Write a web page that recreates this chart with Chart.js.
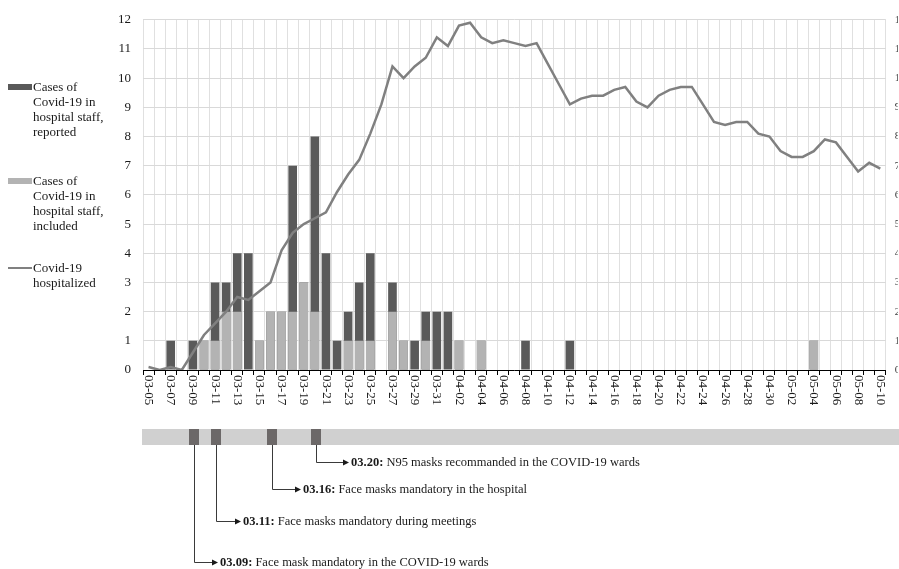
<!DOCTYPE html>
<html><head><meta charset="utf-8">
<script src="https://cdn.jsdelivr.net/npm/chart.js@4.4.1/dist/chart.umd.min.js"></script>
<style>
html,body{margin:0;padding:0;background:#fff;overflow:hidden;}
#wrap{position:relative;width:899px;height:569px;}
canvas{position:absolute;left:0;top:0;}
.lg{position:absolute;font-family:"Liberation Serif","Times New Roman",serif;font-size:13px;line-height:15px;color:#1a1a1a;white-space:nowrap;}
.sw{position:absolute;}
</style></head><body>
<div id="wrap">
<canvas id="c" width="899" height="569"></canvas>
<div class="sw" style="left:8px;top:84px;width:24px;height:6px;background:#595959"></div>
<div class="lg" style="left:33px;top:79px">Cases of<br>Covid-19 in<br>hospital staff,<br>reported</div>
<div class="sw" style="left:8px;top:178px;width:24px;height:6px;background:#b3b3b3"></div>
<div class="lg" style="left:33px;top:173px">Cases of<br>Covid-19 in<br>hospital staff,<br>included</div>
<div class="sw" style="left:8px;top:267px;width:24px;height:2px;background:#808080"></div>
<div class="lg" style="left:33px;top:260px">Covid-19<br>hospitalized</div>
</div>
<script>
const dates = [
 '03-05','03-06','03-07','03-08','03-09','03-10','03-11','03-12','03-13','03-14',
 '03-15','03-16','03-17','03-18','03-19','03-20','03-21','03-22','03-23','03-24',
 '03-25','03-26','03-27','03-28','03-29','03-30','03-31','04-01','04-02','04-03',
 '04-04','04-05','04-06','04-07','04-08','04-09','04-10','04-11','04-12','04-13',
 '04-14','04-15','04-16','04-17','04-18','04-19','04-20','04-21','04-22','04-23',
 '04-24','04-25','04-26','04-27','04-28','04-29','04-30','05-01','05-02','05-03',
 '05-04','05-05','05-06','05-07','05-08','05-09','05-10'];

// staff cases, reported (total) per day
const reportedCases = [
 0,0,1,0,1,1,3,3,4,4,
 1,2,2,7,3,8,4,1,2,3,
 4,0,3,1,1,2,2,2,1,0,
 1,0,0,0,1,0,0,0,1,0,
 0,0,0,0,0,0,0,0,0,0,
 0,0,0,0,0,0,0,0,0,0,
 1,0,0,0,0,0,0];

// staff cases, included per day
const includedCases = [
 0,0,0,0,0,1,1,2,2,0,
 1,2,2,2,3,2,0,0,1,1,
 1,0,2,1,0,1,0,0,1,0,
 1,0,0,0,0,0,0,0,0,0,
 0,0,0,0,0,0,0,0,0,0,
 0,0,0,0,0,0,0,0,0,0,
 1,0,0,0,0,0,0];

// hospitalized Covid-19 patients (right axis)
const hospitalized = [
 1,0,1,0,6,12,16,20,25,24,
 27,30,41,47,50,52,54,61,67,72,
 81,91,104,100,104,107,114,111,118,119,
 114,112,113,112,111,112,105,98,91,93,
 94,94,96,97,92,90,94,96,97,97,
 91,85,84,85,85,81,80,75,73,73,
 75,79,78,73,68,71,69];

const interventionDates = ['03-20','03-16','03-11','03-09'];
const interventionTags  = ['03.20:','03.16:','03.11:','03.09:'];
const interventionTexts = [
 ' N95 masks recommanded in the COVID-19 wards',
 ' Face masks mandatory in the hospital',
 ' Face masks mandatory during meetings',
 ' Face mask mandatory in the COVID-19 wards'];

const SERIF = '"Liberation Serif","Times New Roman",serif';

const rotatedLabels = {
  id:'rotatedLabels',
  afterDraw(chart){
    const xs = chart.scales.x, ctx = chart.ctx;
    ctx.save();
    ctx.font = '13px ' + SERIF;
    ctx.fillStyle = '#1a1a1a';
    ctx.textAlign = 'left';
    ctx.textBaseline = 'middle';
    dates.forEach((d,i)=>{
      if (i % 2) return;
      const x = xs.getPixelForTick(i);
      ctx.save();
      ctx.translate(x, xs.top + 5);
      ctx.rotate(Math.PI/2);
      ctx.fillText(d, 0, 0);
      ctx.restore();
    });
    ctx.restore();
  }
};

const rowY = [462, 489, 521, 562];
const textGap = [35, 31, 27, 26];
const timeline = {
  id:'timeline',
  afterDraw(chart){
    const xs = chart.scales.x, ctx = chart.ctx;
    const left = chart.chartArea.left;
    const top = 429, h = 16;
    ctx.save();
    ctx.fillStyle = '#d0d0d0';
    ctx.fillRect(left - 1, top, chart.width - left + 1, h);
    interventionDates.forEach((d,k)=>{
      const cx = Math.round(xs.getPixelForValue(dates.indexOf(d))) + 1;
      ctx.fillStyle = '#6c6868';
      ctx.fillRect(cx - 5, top, 10, h);
    });
    interventionDates.forEach((d,k)=>{
      const cx = Math.round(xs.getPixelForValue(dates.indexOf(d))) + 1;
      const y = rowY[k] + 0.5;
      const tx = cx + textGap[k];
      ctx.strokeStyle = '#3a3a3a';
      ctx.lineWidth = 1;
      ctx.beginPath();
      ctx.moveTo(cx + 0.5, top + h);
      ctx.lineTo(cx + 0.5, y);
      ctx.lineTo(tx - 6, y);
      ctx.stroke();
      ctx.fillStyle = '#1a1a1a';
      ctx.beginPath();
      ctx.moveTo(tx - 2, y);
      ctx.lineTo(tx - 8, y - 3);
      ctx.lineTo(tx - 8, y + 3);
      ctx.closePath();
      ctx.fill();
      ctx.textBaseline = 'middle';
      ctx.textAlign = 'left';
      ctx.font = 'bold 12.5px ' + SERIF;
      ctx.fillText(interventionTags[k], tx, y);
      const w = ctx.measureText(interventionTags[k]).width;
      ctx.font = '12.5px ' + SERIF;
      ctx.fillText(interventionTexts[k], tx + w, y);
    });
    ctx.restore();
  }
};

new Chart(document.getElementById('c'), {
  type:'bar',
  data:{
    labels:dates,
    datasets:[
      {type:'line', label:'Covid-19 hospitalized', data:hospitalized, yAxisID:'y2',
       borderColor:'#808080', borderWidth:2.5, pointRadius:0, tension:0, order:0},
      {label:'Cases of Covid-19 in hospital staff, included', data:includedCases, yAxisID:'y',
       backgroundColor:'#b3b3b3', grouped:false, order:1, categoryPercentage:1, barPercentage:0.78},
      {label:'Cases of Covid-19 in hospital staff, reported', data:reportedCases, yAxisID:'y',
       backgroundColor:'#5a5a5a', grouped:false, order:2, categoryPercentage:1, barPercentage:0.78}
    ]
  },
  options:{
    responsive:false, animation:false, devicePixelRatio:1,
    layout:{padding:{left:0,right:0,top:18,bottom:0}},
    plugins:{legend:{display:false}, tooltip:{enabled:false}},
    scales:{
      x:{
        grid:{color:'#e0e0e0', offset:true, tickColor:'#000', tickLength:5, drawTicks:true},
        border:{color:'#000', width:1},
        ticks:{autoSkip:false, maxRotation:90, minRotation:90, color:'rgba(0,0,0,0)',
               font:{family:SERIF, size:13}, callback:(v,i)=> i % 2 === 0 ? dates[i] : ''},
        afterFit:s=>{ s.height = 199; }
      },
      y:{
        min:0, max:12,
        ticks:{stepSize:1, padding:12, color:'#1a1a1a', font:{family:SERIF, size:13}},
        grid:{color:'#d9d9d9', drawTicks:false},
        border:{display:false},
        afterFit:s=>{ s.width = 143; }
      },
      y2:{
        position:'right', min:0, max:120,
        ticks:{stepSize:5, padding:9, color:'#333', font:{family:SERIF, size:11}},
        grid:{display:false, drawTicks:false},
        border:{display:false},
        afterFit:s=>{ s.width = 12; }
      }
    }
  },
  plugins:[rotatedLabels, timeline]
});
</script>
</body></html>
